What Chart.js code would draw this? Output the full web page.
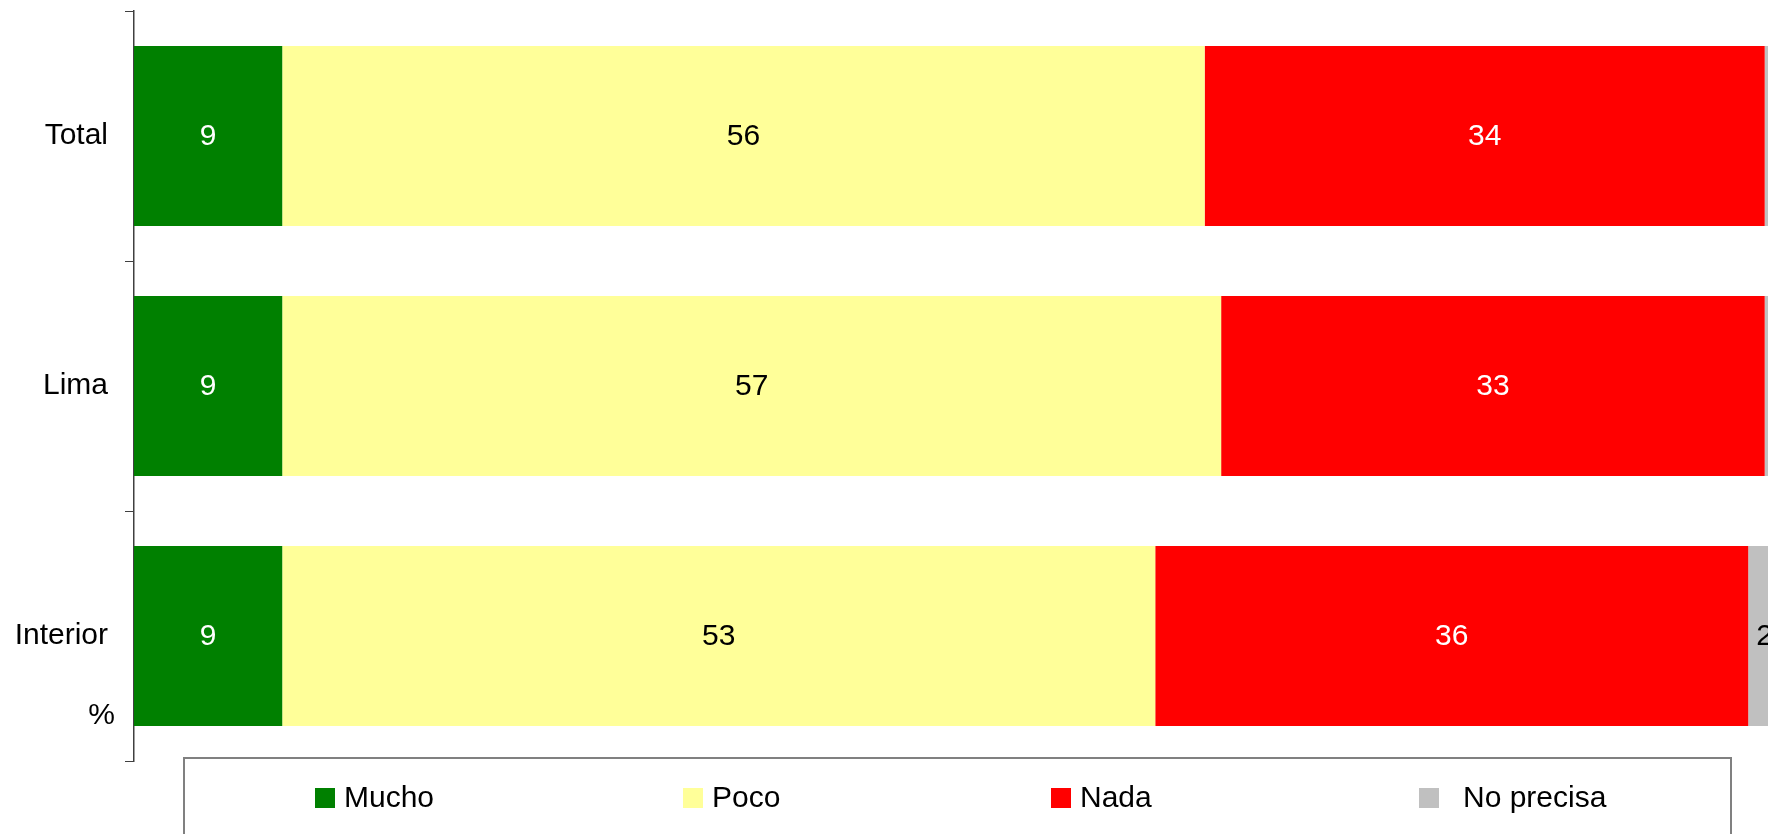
<!DOCTYPE html>
<html>
<head>
<meta charset="utf-8">
<script src="https://cdn.jsdelivr.net/npm/chart.js@4/dist/chart.umd.min.js"></script>
<style>
  html, body { margin: 0; padding: 0; background: #fff; }
  #wrap { width: 1768px; height: 834px; position: relative; }
</style>
</head>
<body>
<div id="wrap"><canvas id="grafico"></canvas></div>
<script>
// Datos del gráfico
const categorias = ['Total', 'Lima', 'Interior'];
const mucho = [9, 9, 9];
const poco = [56, 57, 53];
const nada = [34, 33, 36];
const noPrecisa = [1, 1, 2];
const etiquetas = ['Mucho', 'Poco', 'Nada', 'No precisa'];
const colores = ['#008000', '#FFFF99', '#FF0000', '#C0C0C0'];
const coloresTexto = ['#FFFFFF', '#000000', '#FFFFFF', '#000000'];

const FUENTE = '"Liberation Sans", Arial, sans-serif';

// Etiquetas de valor dentro de cada barra
const pluginValores = {
  id: 'valores',
  afterDatasetsDraw(chart) {
    const ctx = chart.ctx;
    const area = chart.chartArea;
    ctx.save();
    ctx.font = '30px ' + FUENTE;
    ctx.textAlign = 'center';
    ctx.textBaseline = 'middle';
    chart.data.datasets.forEach((ds, i) => {
      const meta = chart.getDatasetMeta(i);
      meta.data.forEach((bar, j) => {
        const x = (bar.x + bar.base) / 2;
        if (x > area.right) return;
        ctx.fillStyle = coloresTexto[i];
        ctx.fillText(String(ds.data[j]), x, bar.y + 1);
      });
    });
    ctx.restore();
  }
};

// Leyenda en recuadro y el signo %
const pluginLeyenda = {
  id: 'leyenda',
  afterDraw(chart) {
    const ctx = chart.ctx;
    const area = chart.chartArea;
    ctx.save();
    // signo %
    ctx.font = '30px ' + FUENTE;
    ctx.fillStyle = '#000';
    ctx.textAlign = 'right';
    ctx.textBaseline = 'middle';
    ctx.fillText('%', area.left - 19, area.bottom - 45);

    // recuadro de leyenda
    const izq = 184, der = 1731, arriba = 758;
    ctx.strokeStyle = '#808080';
    ctx.lineWidth = 2;
    ctx.strokeRect(izq, arriba, der - izq, 120);

    const yTexto = 798;
    ctx.textAlign = 'left';
    chart.data.datasets.forEach((ds, i) => {
      const xm = izq + 131 + i * 368;
      ctx.fillStyle = ds.backgroundColor;
      ctx.fillRect(xm, yTexto - 10, 20, 20);
      ctx.fillStyle = '#000';
      const gap = i === 3 ? 24 : 9;
      ctx.fillText(ds.label, xm + 20 + gap, yTexto + 1);
    });
    ctx.restore();
  }
};

const series = [mucho, poco, nada, noPrecisa];

new Chart(document.getElementById('grafico'), {
  type: 'bar',
  data: {
    labels: categorias,
    datasets: series.map((datos, i) => ({
      label: etiquetas[i],
      data: datos,
      backgroundColor: colores[i],
      borderWidth: 0,
      barPercentage: 1,
      categoryPercentage: 0.72
    }))
  },
  options: {
    indexAxis: 'y',
    responsive: true,
    maintainAspectRatio: false,
    animation: false,
    layout: {
      padding: { top: 11, bottom: 73, left: 0, right: 0 }
    },
    scales: {
      x: {
        stacked: true,
        display: false,
        min: 0,
        max: 99.2
      },
      y: {
        stacked: true,
        afterFit: function(scale) {
          scale.width = 134;
          scale.paddingTop = 0;
          scale.paddingBottom = 0;
        },
        grid: {
          drawOnChartArea: false,
          drawTicks: true,
          tickLength: 9,
          color: '#404040',
          offset: true
        },
        border: {
          display: true,
          color: '#404040',
          width: 1.5
        },
        ticks: {
          color: '#000',
          padding: 17,
          font: { family: FUENTE, size: 30 }
        }
      }
    },
    plugins: {
      legend: { display: false },
      tooltip: { enabled: false },
      title: { display: false }
    }
  },
  plugins: [pluginValores, pluginLeyenda]
});
</script>
</body>
</html>
